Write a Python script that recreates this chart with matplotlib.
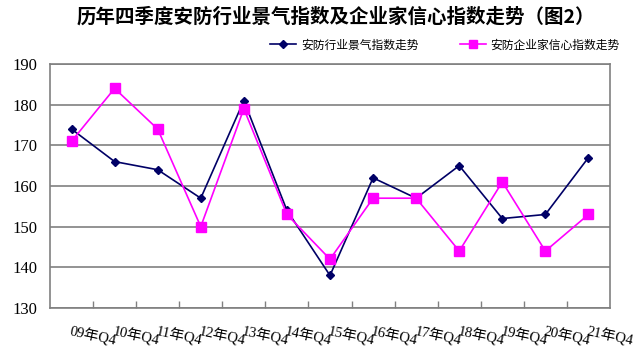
import matplotlib
matplotlib.use("Agg")
import matplotlib.pyplot as plt
import numpy as np

categories = ["09年Q4", "10年Q4", "11年Q4", "12年Q4", "13年Q4", "14年Q4", "15年Q4",
              "16年Q4", "17年Q4", "18年Q4", "19年Q4", "20年Q4", "21年Q4"]
industry_index = [174, 166, 164, 157, 181, 154, 138, 162, 157, 165, 152, 153, 167]
confidence_index = [171, 184, 174, 150, 179, 153, 142, 157, 157, 144, 161, 144, 153]
series_names = ["安防行业景气指数走势", "安防企业家信心指数走势"]
title = "历年四季度安防行业景气指数及企业家信心指数走势（图2）"
yticks = [130, 140, 150, 160, 170, 180, 190]

serif_fam = ['Liberation Serif', 'Noto Sans CJK SC', 'DejaVu Sans']
plt.rcParams['font.family'] = serif_fam

fig = plt.figure(figsize=(6.4, 3.52), dpi=100)
ax = fig.add_axes([50/640, 44/352, 560/640, 244/352])

x = np.arange(len(categories))
ax.plot(x, industry_index, color='#000066', lw=1.2, marker='D', ms=4.5,
        label=series_names[0], zorder=3)
ax.plot(x, confidence_index, color='#FF00FF', lw=1.2, marker='s', ms=7,
        label=series_names[1], zorder=3)

ax.set_xlim(-0.5, len(categories) - 0.5)
ax.set_ylim(130, 190)
ax.set_yticks(yticks)
ax.set_yticklabels([str(v) for v in yticks], fontsize=12, family=serif_fam)
ax.tick_params(axis='y', length=0, pad=9)
ax.yaxis.grid(True, color='#808080', lw=1.2)
ax.set_axisbelow(True)

ax.set_xticks(x)
ax.set_xticklabels(categories, rotation=-12, ha='left', va='top',
                   rotation_mode='anchor', fontsize=10.5, family=serif_fam)
ax.tick_params(axis='x', which='major', length=0, pad=12)
ax.set_xticks(np.arange(0.5, len(categories) - 0.5, 1), minor=True)
ax.tick_params(axis='x', which='minor', direction='in', length=5,
               color='#808080', width=1)

for s in ax.spines.values():
    s.set_color('#808080')
    s.set_linewidth(1.2)

fig.text(336/640, 1 - 17/352, title, ha='center', va='center', fontsize=14,
         fontweight='bold', family=['Noto Sans CJK SC', 'DejaVu Sans'])

leg = fig.legend(loc='center', bbox_to_anchor=(445/640, 1 - 45/352), ncol=2,
                 frameon=False, handlelength=2.2, columnspacing=3.5,
                 handletextpad=0.4, markerscale=0.8,
                 prop={'family': ['Noto Sans CJK SC', 'DejaVu Sans'], 'size': 8.5})

fig.savefig("out.png", dpi=100, facecolor='white')
